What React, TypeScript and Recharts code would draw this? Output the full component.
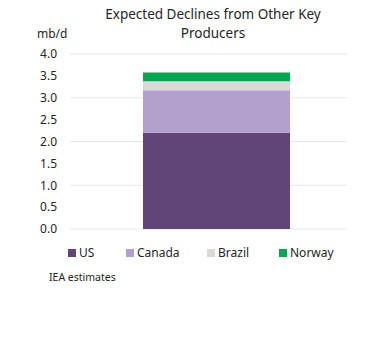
import React from 'react'
import { BarChart, Bar, XAxis, YAxis, CartesianGrid, Legend } from 'recharts'

const categories = ['Declines']
const usValues = [2.2]
const canadaValues = [0.97]
const brazilValues = [0.21]
const norwayValues = [0.2]
const yTicks = [0, 0.5, 1, 1.5, 2, 2.5, 3, 3.5, 4]

const series = [
  { key: 'US', values: usValues, color: '#604579' },
  { key: 'Canada', values: canadaValues, color: '#b39fcb' },
  { key: 'Brazil', values: brazilValues, color: '#d9d9d9' },
  { key: 'Norway', values: norwayValues, color: '#00a84f' },
]

// legend item widths (excel style spacing)
const legendWidths = [58, 81, 72, 70]

const data = categories.map((c, i) => {
  const row: Record<string, string | number> = { name: c }
  series.forEach(s => { row[s.key] = s.values[i] })
  return row
})

const font = '"Noto Sans", "Open Sans", sans-serif'

function LegendContent() {
  return (
    <div style={{ display: 'flex', paddingLeft: 68, fontFamily: font, fontSize: 12, color: '#262626' }}>
      {series.map((s, i) => (
        <div key={s.key} style={{ width: legendWidths[i], display: 'flex', alignItems: 'center' }}>
          <span style={{ width: 8, height: 8, background: s.color, marginRight: 3, display: 'inline-block' }} />
          <span>{s.key}</span>
        </div>
      ))}
    </div>
  )
}

export default function App() {
  return (
    <div style={{ position: 'absolute', left: 0, top: 0, width: 367, height: 353, background: '#fff', fontFamily: font }}>
      <div style={{ position: 'absolute', left: 100, width: 226, top: 5, textAlign: 'center', fontSize: 13.5, lineHeight: '19px', color: '#262626' }}>
        Expected Declines from Other Key Producers
      </div>
      <div style={{ position: 'absolute', left: 37, top: 25, fontSize: 12, color: '#262626' }}>mb/d</div>
      <BarChart width={367} height={353} data={data} margin={{ top: 54, right: 20, bottom: 107, left: 30 }}>
        <CartesianGrid vertical={false} stroke="#e8e8e8" />
        <XAxis dataKey="name" hide padding={{ left: 16, right: 0 }} />
        <YAxis
          domain={[0, 4]}
          ticks={yTicks}
          tickFormatter={(v: number) => v.toFixed(1)}
          axisLine={false}
          tickLine={false}
          tickSize={0}
          tickMargin={13}
          width={40}
          tick={{ fontSize: 12, fill: '#262626', fontFamily: font }}
        />
        <Legend verticalAlign="bottom" align="left" content={LegendContent} wrapperStyle={{ left: 0, top: 244, width: 367 }} />
        {series.map(s => (
          <Bar key={s.key} dataKey={s.key} stackId="a" fill={s.color} barSize={147} isAnimationActive={false} />
        ))}
      </BarChart>
      <div style={{ position: 'absolute', left: 49, top: 270, fontSize: 10.5, color: '#262626' }}>IEA estimates</div>
    </div>
  )
}
